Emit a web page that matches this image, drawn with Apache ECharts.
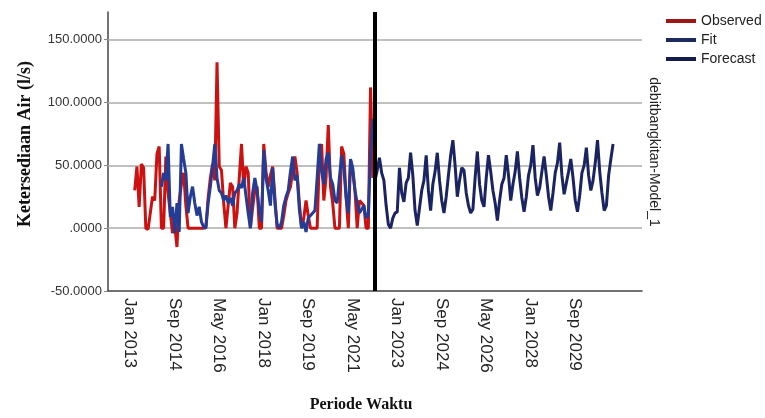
<!DOCTYPE html>
<html><head><meta charset="utf-8">
<script src="https://cdn.jsdelivr.net/npm/echarts@6/dist/echarts.min.js"></script>
<style>html,body{margin:0;padding:0;background:#fff}#c{width:765px;height:418px}</style>
</head><body><div id="c"></div>
<script>
// ---- axis definition ----
const monthNames = ['Jan','Feb','Mar','Apr','May','Jun','Jul','Aug','Sep','Oct','Nov','Dec'];
const axisStartYear = 2012;   // axis starts Jan 2012
const axisMonthCount = 241;   // through Jan 2032
const tickLabels = ['Jan 2013','Sep 2014','May 2016','Jan 2018','Sep 2019','May 2021','Jan 2023','Sep 2024','May 2026','Jan 2028','Sep 2029'];
const yTicks = [-50, 0, 50, 100, 150];
const gridValues = [0, 50, 100, 150];

// ---- series (monthly) ----
const observedStart = 'Jan 2013';
const observed = [
  30, 49, 17, 51, 48, 0, -1, 12, 25, 22, 59, 65,
  0, 0, 57, 28, 12, -4, 2, -15, 22, 35, 44, 18,
  0, 0, 0, 0, 0, 0, 0, 0, 1, 24, 40, 51,
  38, 132, 49, 46, 20, 0, 18, 36, 33, 0, 12, 40,
  67, 33, 49, 44, 0, 16, 30, 33, 0, 0, 67, 45,
  33, 42, 49, 25, 0, 0, 0, 10, 22, 28, 33, 45,
  57, 44, 20, 0, 8, 22, 10, 0, 0, 0, 0, 57,
  67, 22, 40, 82, 33, 20, 0, 0, 0, 65, 59, 25,
  0, 54, 45, 30, 0, 22, 20, 18, 0, 0, 112, 40
];
const fitStart = 'Jan 2014';
const fit = [
  33, 44, 38, 67, 9, 17, -4, 20, -3, 67, 55, 44,
  12, 25, 33, 20, 10, 17, 5, 1, 0, 20, 33, 49,
  67, 40, 30, 28, 22, 26, 20, 24, 18, 28, 30, 35,
  32, 40, 26, 12, 0, 28, 40, 30, 14, 5, 62, 40,
  30, 18, 48, 20, 3, 0, 5, 18, 25, 30, 45, 57,
  38, 42, 15, 0, 5, -3, 8, 10, 12, 14, 40, 67,
  45, 35, 55, 60, 40, 35, 22, 20, 40, 58, 47, 25,
  12, 55, 48, 30, 20, 12, 15, 18, 8, 10, 60, 87
];
const forecastStart = 'Jan 2022';
const forecast = [
  38, 46, 56, 44, 38, 18, 3, 0, 8, 12, 13, 48,
  28, 21, 36, 40, 60, 42, 14, 2, 16, 30, 38, 58,
  30, 14, 35, 45, 60, 38, 22, 12, 25, 42, 58, 70,
  50, 25, 38, 48, 46, 28, 18, 12, 15, 40, 61, 35,
  22, 17, 40, 58, 45, 30, 20, 6, 22, 35, 40, 58,
  42, 22, 35, 45, 61, 40, 24, 13, 25, 42, 50, 66,
  40, 26, 32, 45, 57, 42, 25, 14, 28, 44, 52, 68,
  42, 27, 36, 45, 55, 40, 22, 13, 26, 44, 50, 64,
  42, 30, 38, 52, 70, 45, 28, 14, 18, 42, 55, 67
];
const splitMarker = 'Jan 2022';

// ---- build ----
const categories = [];
for (let i = 0; i < axisMonthCount; i++) {
  categories.push(monthNames[i % 12] + ' ' + (axisStartYear + Math.floor(i / 12)));
}
function align(start, values) {
  const s = categories.indexOf(start);
  return values.map((v, i) => [s + i, v]);
}

const chart = echarts.init(document.getElementById('c'));
chart.setOption({
  animation: false,
  backgroundColor: '#fff',
  grid: { left: 108, top: 12, width: 534, height: 279, containLabel: false },
  legend: {
    orient: 'vertical', left: 666, top: 14, padding: 0, itemWidth: 30, itemHeight: 4, itemGap: 5,
    icon: 'rect',
    textStyle: { fontFamily: 'Liberation Sans', fontSize: 14, color: '#222' },
    data: ['Observed', 'Fit', 'Forecast']
  },
  xAxis: {
    type: 'category', data: categories, boundaryGap: false,
    axisLine: { onZero: false, lineStyle: { color: '#444', width: 1.5 } },
    axisTick: { show: false },
    splitLine: { show: false },
    axisLabel: {
      interval: (i, v) => tickLabels.includes(v),
      rotate: -90, fontFamily: 'Liberation Sans', fontSize: 17, color: '#222', margin: 7,
      verticalAlign: 'top', lineHeight: 10
    }
  },
  yAxis: {
    type: 'value', min: -50, max: 172,
    axisLine: { show: true, lineStyle: { color: '#444', width: 1.5 } },
    axisTick: { show: true, length: 4, customValues: yTicks, lineStyle: { color: '#888' } },
    splitLine: { show: false },
    axisLabel: {
      customValues: yTicks,
      formatter: v => (v === 0 ? '.0000' : v.toFixed(4)),
      fontFamily: 'Liberation Sans', fontSize: 13, color: '#333', margin: 6
    }
  },
  graphic: [
    { type: 'text', x: 25, y: 144, rotation: Math.PI / 2,
      style: { text: 'Ketersediaan Air (l/s)', font: 'bold 18px "Liberation Serif"', fill: '#111', align: 'center', verticalAlign: 'middle' } },
    { type: 'text', x: 361, y: 405,
      style: { text: 'Periode Waktu', font: 'bold 16px "Liberation Serif"', fill: '#111', align: 'center', verticalAlign: 'middle' } },
    { type: 'text', x: 654, y: 152, rotation: -Math.PI / 2,
      style: { text: 'debitbangkitan-Model_1', font: '14px "Liberation Sans"', fill: '#222', align: 'center', verticalAlign: 'middle' } }
  ],
  series: [
    { type: 'line', data: [], silent: true, z: 1,
      markLine: { z: 1, silent: true, symbol: 'none', label: { show: false },
        lineStyle: { color: '#ababab', width: 1.5, type: 'solid' },
        data: gridValues.map(v => ({ yAxis: v })) } },
    { name: 'Observed', type: 'line', data: align(observedStart, observed), showSymbol: false,
      lineStyle: { color: '#cc1111', width: 3 }, itemStyle: { color: '#a01515' }, z: 2 },
    { name: 'Fit', type: 'line', data: align(fitStart, fit), showSymbol: false,
      lineStyle: { color: '#243c94', width: 3 }, itemStyle: { color: '#1c2a5e' }, z: 3 },
    { name: 'Forecast', type: 'line', data: align(forecastStart, forecast), showSymbol: false,
      lineStyle: { color: '#1b2462', width: 3 }, itemStyle: { color: '#141c4a' }, z: 3,
      markLine: { z: 10, silent: true, symbol: 'none', label: { show: false },
        lineStyle: { color: '#000', width: 4, type: 'solid' },
        data: [{ xAxis: splitMarker }] } }
  ]
});
</script>
</body></html>
